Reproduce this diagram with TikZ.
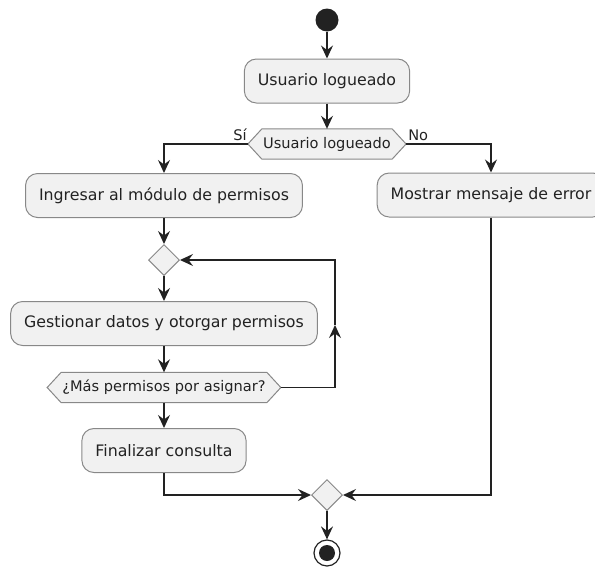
\documentclass[tikz,border=0pt]{standalone}
\usepackage{fontspec}
\setmainfont{DejaVu Sans}
\usetikzlibrary{shapes.geometric,arrows.meta,calc}
\pgfdeclarelayer{background}
\pgfsetlayers{background,main}

\definecolor{nodefill}{HTML}{F1F1F1}
\definecolor{nodeline}{HTML}{888888}
\definecolor{ink}{HTML}{222222}

% hexagonal frame behind a guard node; tips are the coordinates <name>w and <name>e
\newcommand{\hexframe}[1]{%
  \begin{pgfonlayer}{background}
    \draw[draw=nodeline, fill=nodefill, line width=1pt, line join=miter]
      (#1.north west) -- (#1.north east) -- (#1e) -- (#1.south east)
      -- (#1.south west) -- (#1w) -- cycle;
  \end{pgfonlayer}}

\begin{document}
\begin{tikzpicture}[x=1pt, y=-1pt,
  action/.style={rectangle, rounded corners=12pt, draw=nodeline, fill=nodefill,
    line width=1pt, minimum height=44pt, inner xsep=13.5pt, inner ysep=0pt,
    text=ink, font=\fontsize{15.8}{19}\selectfont},
  guard/.style={rectangle, inner xsep=1pt, inner ysep=0pt, minimum height=30pt,
    text=ink, font=\fontsize{14.6}{17}\selectfont},
  merge/.style={diamond, draw=nodeline, fill=nodefill, line width=1pt,
    minimum width=31pt, minimum height=31pt, inner sep=0pt},
  startdot/.style={circle, fill=ink, minimum size=23pt, inner sep=0pt},
  endring/.style={circle, draw=ink, line width=1.2pt, fill=white,
    minimum size=26pt, inner sep=0pt},
  flow/.style={draw=ink, line width=1.4pt,
    -{Stealth[length=13pt, width=12pt, inset=4.5pt]}},
  branchlabel/.style={text=ink, font=\fontsize{14.6}{17}\selectfont, inner sep=0pt},
]
\useasboundingbox (0,0) rectangle (595,568);

% nodes
\node[startdot] (start) at (327,20) {};
\node[action] (login) at (327,81) {Usuario logueado};

\node[guard] (hexA) at (327,144) {Usuario logueado};
\coordinate (hexAw) at ([xshift=-14pt]hexA.west);
\coordinate (hexAe) at ([xshift=14pt]hexA.east);
\hexframe{hexA}
\node[branchlabel, anchor=base east] (yes) at ([xshift=-1pt, yshift=3.5pt]hexAw) {Sí};
\node[branchlabel, anchor=base west] (no) at ([xshift=2pt, yshift=3.5pt]hexAe) {No};

\node[action] (enter) at (164,195.5) {Ingresar al módulo de permisos};
\node[action] (error) at (491,195) {Mostrar mensaje de error};

\node[merge] (loop) at (164,260) {};
\node[action] (manage) at (164,323.5) {Gestionar datos y otorgar permisos};

\node[guard] (hexB) at (164,387.5) {¿Más permisos por asignar?};
\coordinate (hexBw) at ([xshift=-14pt]hexB.west);
\coordinate (hexBe) at ([xshift=14pt]hexB.east);
\hexframe{hexB}

\node[action] (finish) at (164,450.5) {Finalizar consulta};

\node[merge] (join) at (327,495) {};
\node[endring] (stop) at (327,553) {};
\fill[ink] (stop.center) circle (8pt);

\coordinate (loopup) at (335,325);

% connectors
\draw[flow] (start) -- (login);
\draw[flow] (login) -- (hexA);
\draw[flow] (hexAw) -| (enter);
\draw[flow] (hexAe) -| (error);
\draw[flow] (enter) -- (loop);
\draw[flow] (loop) -- (manage);
\draw[flow] (manage) -- (hexB);
\draw[flow] (hexB) -- (finish);
\draw[flow] (hexBe) -| (loopup);
\draw[flow] (loopup) |- (loop);
\draw[flow] (finish) |- (join);
\draw[flow] (error) |- (join);
\draw[flow] (join) -- (stop);
\end{tikzpicture}
\end{document}
